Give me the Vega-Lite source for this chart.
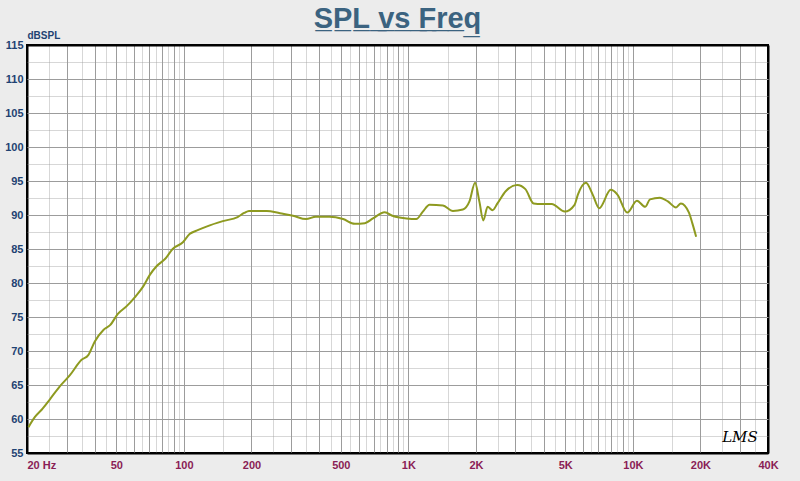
{
  "$schema": "https://vega.github.io/schema/vega-lite/v6.json",
  "description": "SPL vs Freq, LMS style frequency response",
  "width": 741,
  "height": 408,
  "autosize": "none",
  "padding": {"left": 27, "top": 45, "right": 32, "bottom": 28},
  "background": "#ececec",
  "title": {
    "text": "S̲P̲L̲ ̲v̲s̲ ̲F̲r̲e̲q̲",
    "font": "Liberation Sans",
    "fontSize": 29,
    "fontWeight": "bold",
    "color": "#3b6380",
    "anchor": "middle",
    "offset": -4
  },
  "config": {
    "view": {"fill": "white", "stroke": "black", "strokeWidth": 2},
    "axis": {"labelFont": "Liberation Sans", "titleFont": "Liberation Sans"}
  },
  "data": {
    "values": [
      {"freq": 20.3, "spl": 58.8}, {"freq": 21.7, "spl": 60.3}, {"freq": 23.3, "spl": 61.4},
      {"freq": 25.3, "spl": 62.9}, {"freq": 28.0, "spl": 64.8}, {"freq": 31.0, "spl": 66.4},
      {"freq": 35.0, "spl": 68.7}, {"freq": 37.5, "spl": 69.4}, {"freq": 40.1, "spl": 71.4},
      {"freq": 43.8, "spl": 73.1}, {"freq": 46.9, "spl": 73.8}, {"freq": 50.9, "spl": 75.5},
      {"freq": 55.6, "spl": 76.6}, {"freq": 60.4, "spl": 77.9}, {"freq": 65.9, "spl": 79.5},
      {"freq": 70.5, "spl": 81.2}, {"freq": 75.7, "spl": 82.5}, {"freq": 82.8, "spl": 83.6},
      {"freq": 89.1, "spl": 85.0}, {"freq": 99, "spl": 86.0}, {"freq": 106, "spl": 87.2},
      {"freq": 113.8, "spl": 87.7}, {"freq": 126, "spl": 88.3}, {"freq": 149, "spl": 89.1},
      {"freq": 173.5, "spl": 89.7}, {"freq": 185.5, "spl": 90.3}, {"freq": 195, "spl": 90.6},
      {"freq": 234, "spl": 90.6}, {"freq": 268, "spl": 90.25}, {"freq": 306, "spl": 89.9},
      {"freq": 350, "spl": 89.4}, {"freq": 387, "spl": 89.75}, {"freq": 445, "spl": 89.75},
      {"freq": 512, "spl": 89.4}, {"freq": 577, "spl": 88.7}, {"freq": 640, "spl": 88.8},
      {"freq": 695, "spl": 89.5}, {"freq": 784, "spl": 90.4}, {"freq": 855, "spl": 89.85},
      {"freq": 980, "spl": 89.5}, {"freq": 1085, "spl": 89.4}, {"freq": 1160, "spl": 90.5},
      {"freq": 1243, "spl": 91.5}, {"freq": 1425, "spl": 91.4}, {"freq": 1579, "spl": 90.6},
      {"freq": 1749, "spl": 90.8}, {"freq": 1871, "spl": 92.0}, {"freq": 1982, "spl": 94.75},
      {"freq": 2071, "spl": 92.0}, {"freq": 2157, "spl": 89.2}, {"freq": 2254, "spl": 91.2},
      {"freq": 2370, "spl": 90.7}, {"freq": 2494, "spl": 91.7}, {"freq": 2713, "spl": 93.5},
      {"freq": 3053, "spl": 94.4}, {"freq": 3321, "spl": 93.8}, {"freq": 3612, "spl": 91.7},
      {"freq": 3931, "spl": 91.6}, {"freq": 4350, "spl": 91.6}, {"freq": 4975, "spl": 90.5},
      {"freq": 5500, "spl": 91.5}, {"freq": 5690, "spl": 93.0}, {"freq": 6185, "spl": 94.75},
      {"freq": 6625, "spl": 93.0}, {"freq": 7080, "spl": 91.0}, {"freq": 7970, "spl": 93.7},
      {"freq": 8535, "spl": 93.0}, {"freq": 9440, "spl": 90.35}, {"freq": 10430, "spl": 92.1},
      {"freq": 11340, "spl": 91.2}, {"freq": 11930, "spl": 92.3}, {"freq": 13180, "spl": 92.55},
      {"freq": 14320, "spl": 92.0}, {"freq": 15570, "spl": 91.1}, {"freq": 16360, "spl": 91.7},
      {"freq": 17780, "spl": 90.35}, {"freq": 18400, "spl": 88.8}, {"freq": 19140, "spl": 86.8}
    ]
  },
  "resolve": {"scale": {"y": "independent"}},
  "layer": [
    {
      "mark": {"type": "line", "color": "#8e9a20", "strokeWidth": 2, "interpolate": "monotone"},
      "encoding": {
        "x": {
          "field": "freq",
          "type": "quantitative",
          "scale": {"type": "log", "domain": [20, 40000], "nice": false},
          "axis": {
            "title": null,
            "values": [20, 25, 30, 35, 40, 45, 50, 55, 60, 65, 70, 75, 80, 85, 90, 95,
              100, 150, 200, 250, 300, 350, 400, 450, 500, 550, 600, 650, 700, 750, 800, 850, 900, 950,
              1000, 1500, 2000, 2500, 3000, 3500, 4000, 4500, 5000, 5500, 6000, 6500, 7000, 7500, 8000, 8500, 9000, 9500,
              10000, 15000, 20000, 25000, 30000, 35000, 40000],
            "domain": false,
            "ticks": false,
            "labelExpr": "datum.value == 20 ? '20  Hz' : indexof([50, 100, 200, 500], datum.value) >= 0 ? datum.value + '' : indexof([1000, 2000, 5000, 10000, 20000, 40000], datum.value) >= 0 ? (datum.value / 1000) + 'K' : ''",
            "labelAlign": {"condition": {"test": "datum.value == 20", "value": "left"}, "value": "center"},
            "labelFontSize": 11,
            "labelFontWeight": "bold",
            "labelColor": "#8a1d55",
            "labelPadding": 6,
            "labelOverlap": false,
            "labelBound": false,
            "labelFlush": false,
            "grid": true,
            "gridColor": {"condition": {"test": "datum.value == 20 || datum.value == 40000", "value": "black"}, "value": "#9c9c9c"},
            "gridWidth": {"condition": {"test": "datum.value == 20 || datum.value == 40000", "value": 2}, "value": 1},
            "gridOpacity": {"condition": {"test": "abs(datum.value / pow(10, floor(log(datum.value) / LN10 + 1e-9)) - round(datum.value / pow(10, floor(log(datum.value) / LN10 + 1e-9)))) < 0.01", "value": 1}, "value": 0.4}
          }
        },
        "y": {
          "field": "spl",
          "type": "quantitative",
          "scale": {"domain": [55, 115], "nice": false, "zero": false},
          "axis": {
            "orient": "left",
            "title": "dBSPL",
            "titleAngle": 0,
            "titleAlign": "left",
            "titleBaseline": "bottom",
            "titleX": 0,
            "titleY": -5,
            "titleFontSize": 10,
            "titleFontWeight": "bold",
            "titleColor": "#1f4272",
            "values": [55, 60, 65, 70, 75, 80, 85, 90, 95, 100, 105, 110, 115],
            "domain": false,
            "ticks": false,
            "labelFontSize": 11,
            "labelFontWeight": "bold",
            "labelColor": "#1f4272",
            "labelPadding": 4,
            "labelOverlap": false,
            "labelBound": false,
            "labelFlush": false,
            "grid": true,
            "gridColor": {"condition": {"test": "datum.value == 55 || datum.value == 115", "value": "black"}, "value": "#9c9c9c"},
            "gridWidth": {"condition": {"test": "datum.value == 55 || datum.value == 115", "value": 2}, "value": 1}
          }
        }
      }
    },
    {
      "data": {"values": [{"freq": 30000, "spl": 57.4, "logo": "LMS"}]},
      "mark": {"type": "text", "font": "DejaVu Serif", "fontStyle": "italic", "fontSize": 15, "color": "black", "align": "center", "baseline": "middle"},
      "encoding": {
        "x": {"field": "freq", "type": "quantitative"},
        "y": {
          "field": "spl",
          "type": "quantitative",
          "scale": {"domain": [55, 115], "nice": false, "zero": false},
          "axis": {
            "orient": "right",
            "title": null,
            "values": [57.5, 62.5, 67.5, 72.5, 77.5, 82.5, 87.5, 92.5, 97.5, 102.5, 107.5, 112.5],
            "labels": false,
            "domain": false,
            "ticks": false,
            "grid": true,
            "gridColor": "#9c9c9c",
            "gridOpacity": 0.4
          }
        },
        "text": {"field": "logo"}
      }
    }
  ]
}
